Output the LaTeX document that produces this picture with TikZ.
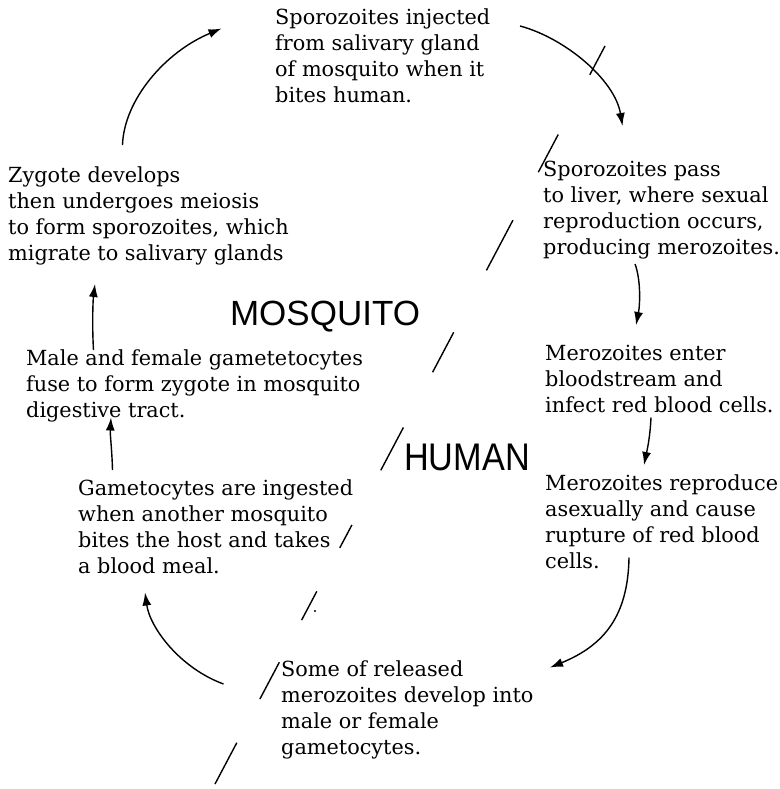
\documentclass[tikz,border=0pt]{standalone}
\usepackage{fontspec}
\setmainfont{DejaVu Serif}
\setsansfont{Liberation Sans}
\usepackage{tikz}
\usetikzlibrary{calc,arrows.meta}
\tikzstyle{stage} = [anchor=north west, inner sep=0pt, align=left, font=\fontsize{20.8}{26}\selectfont]
\tikzstyle{host} = [anchor=base, inner sep=0pt]
\tikzstyle{cycle} = [black, line width=1.4pt, -{Latex[length=13pt,width=9pt]}]
\tikzstyle{divide} = [black, line width=1.4pt]

\begin{document}
\begin{tikzpicture}[x=1pt,y=-1pt]
\useasboundingbox (0,0) rectangle (779,789);

\node[stage] (inj) at (275,5.8) {\strut Sporozoites injected\\from salivary gland\\of mosquito when it\\bites human.};
\node[stage] (spass) at (543,157.8) {\strut Sporozoites pass\\to liver, where sexual\\reproduction occurs,\\producing merozoites.};
\node[stage] (menter) at (545,341.8) {\strut Merozoites enter\\bloodstream and\\infect red blood cells.};
\node[stage] (mrep) at (545,471.8) {\strut Merozoites reproduce\\asexually and cause\\rupture of red blood\\cells.};
\node[stage] (some) at (281,657.8) {\strut Some of released\\merozoites develop into\\male or female\\gametocytes.};
\node[stage] (gam) at (78,476.8) {\strut Gametocytes are ingested\\when another mosquito\\bites the host and takes\\a blood meal.};
\node[stage] (male) at (26,346.8) {\strut Male and female gametetocytes\\fuse to form zygote in mosquito\\digestive tract.};
\node[stage] (zyg) at (8,163.8) {\strut Zygote develops\\then undergoes meiosis\\to form sporozoites, which\\migrate to salivary glands};

\node[host, font=\sffamily\fontsize{35}{35}\selectfont] (mosq) at (325,325) {MOSQUITO};
\node[host, font=\sffamily\fontsize{38.5}{38.5}\selectfont] (hum) at (467,470) {\scalebox{0.89}[1]{HUMAN}};

\coordinate (lo) at (215,784);
\coordinate (hi) at (605,46);
\foreach \a/\b in {0/0.056, 0.115/0.165, 0.222/0.261, 0.320/0.351, 0.425/0.483, 0.558/0.612, 0.696/0.764, 0.829/0.880, 0.961/1}
  \draw[divide] ($(lo)!\a!(hi)$) -- ($(lo)!\b!(hi)$);
\fill (315,611) circle (1.2);

\draw[cycle] ($(zyg.north west)+(114.5,-18.8)$) .. controls (124,100) and (165,52) .. ($(inj.north west)+(-53.5,22.7)$);
\draw[cycle] ($(inj.north west)+(245,20.2)$) .. controls (565,38) and (615,80) .. ($(spass.north west)+(79.5,-31.8)$);
\draw[cycle] ($(spass.north west)+(92,106.2)$) .. controls (641,280) and (640,305) .. ($(menter.north west)+(91,-16.8)$);
\draw[cycle] ($(menter.north west)+(106,75.7)$) .. controls (650,440) and (646,455) .. ($(mrep.north west)+(99,-6.8)$);
\draw[cycle] ($(mrep.north west)+(84,85.7)$) .. controls (628,615) and (605,645) .. ($(some.north west)+(269,9.7)$);
\draw[cycle] ($(some.north west)+(-57.5,26.2)$) .. controls (180,668) and (150,628) .. ($(gam.north west)+(67,115.7)$);
\draw[cycle] ($(gam.north west)+(34.5,-6.8)$) .. controls (112,450) and (110,435) .. ($(male.north west)+(85,70.7)$);
\draw[cycle] ($(male.north west)+(67.5,3.2)$) .. controls (92,325) and (93,300) .. ($(zyg.north west)+(87,120.2)$);

\end{tikzpicture}
\end{document}
